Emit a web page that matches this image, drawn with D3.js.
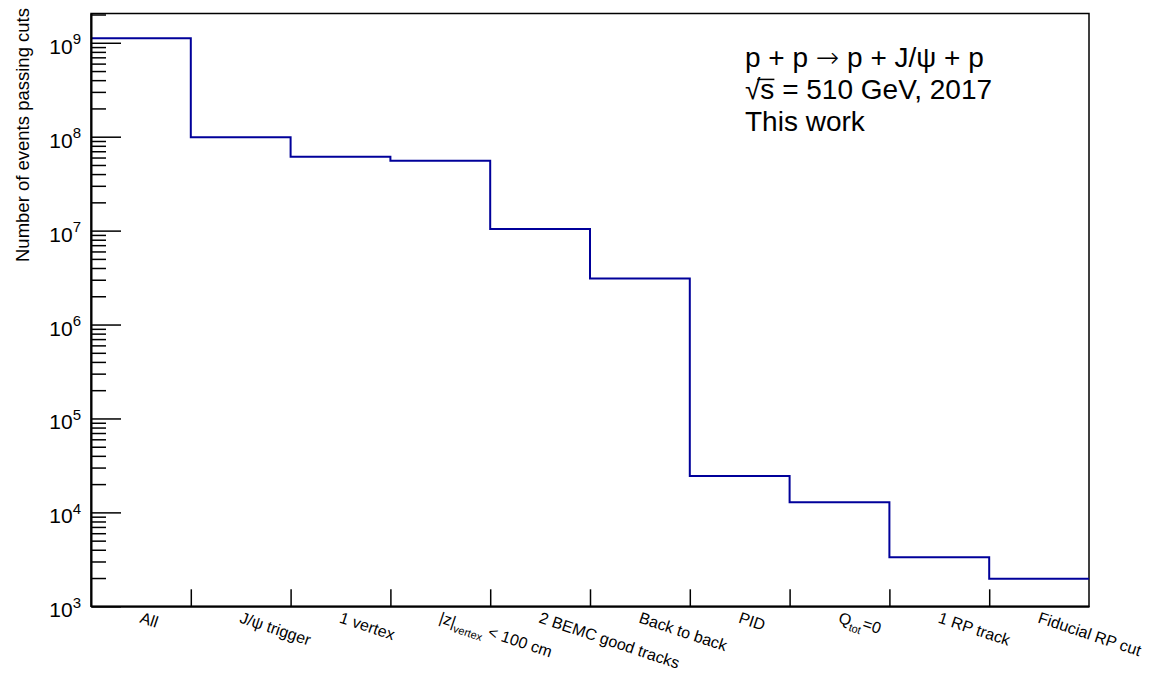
<!DOCTYPE html>
<html>
<head>
<meta charset="utf-8">
<script src="https://cdn.jsdelivr.net/npm/d3@7"></script>
<style>
  body { margin: 0; background: #fff; }
  svg text { font-family: "Liberation Sans", Arial, sans-serif; fill: #000; }
</style>
</head>
<body>
<div class="visHolder"></div>
<script>
const cuts = [
  "All",
  "J/ψ trigger",
  "1 vertex",
  "|z|_{vertex} < 100 cm",
  "2 BEMC good tracks",
  "Back to back",
  "PID",
  "Q_{tot}=0",
  "1 RP track",
  "Fiducial RP cut",
];

const events = [1.12e9, 9.86e7, 6.13e7, 5.54e7, 1.04e7, 3.1e6, 2.44e4, 1.28e4, 3.32e3, 1.96e3];

const yDomain = [1e3, 2.05e9];
const yMajorTicks = [1e3, 1e4, 1e5, 1e6, 1e7, 1e8, 1e9];

const annotation = ["p + p → p + J/ψ + p", "√s = 510 GeV, 2017", "This work"];
const yTitle = "Number of events passing cuts";

const width = 1152;
const height = 673;
const plotLeft = 91;
const plotRight = 1089;
const plotTop = 13.5;
const plotBottom = 606.3;

const svg = d3
  .select(".visHolder")
  .append("svg")
  .attr("width", width)
  .attr("height", height);

const xScale = d3.scaleLinear().domain([0, cuts.length]).range([plotLeft, plotRight]);
const yScale = d3.scaleLog().domain(yDomain).range([plotBottom, plotTop]);

// minor ticks 2..9 x 10^n
const minorTicks = [];
yMajorTicks.forEach((m) => {
  for (let k = 2; k <= 9; k++) {
    const v = m * k;
    if (v <= yDomain[1]) minorTicks.push(v);
  }
});

// frame
svg
  .append("rect")
  .attr("x", plotLeft)
  .attr("y", plotTop)
  .attr("width", plotRight - plotLeft)
  .attr("height", plotBottom - plotTop)
  .attr("fill", "none")
  .attr("stroke", "#000")
  .attr("stroke-width", 1.5);

// histogram line
const line = d3
  .line()
  .x((d) => xScale(d[0]))
  .y((d) => yScale(d[1]))
  .curve(d3.curveStepAfter);

const pts = events.map((v, i) => [i, v]);
pts.push([events.length, events[events.length - 1]]);

svg
  .append("path")
  .datum(pts)
  .attr("d", line)
  .attr("fill", "none")
  .attr("stroke", "#00009a")
  .attr("stroke-width", 2);

// y axis: minor ticks
svg
  .append("g")
  .attr("transform", `translate(${plotLeft},0)`)
  .call(d3.axisLeft(yScale).tickValues(minorTicks).tickSizeInner(-15).tickSizeOuter(0).tickFormat(""))
  .call((g) => g.select(".domain").remove())
  .call((g) => g.selectAll("line").attr("stroke-width", 1.5));

// y axis: major ticks
const yAxis = svg
  .append("g")
  .attr("id", "y-axis")
  .attr("transform", `translate(${plotLeft},0)`)
  .call(
    d3.axisLeft(yScale).tickValues(yMajorTicks).tickSizeInner(-30).tickSizeOuter(0).tickPadding(10)
  );
yAxis.select(".domain").attr("stroke-width", 2);
yAxis.selectAll("line").attr("stroke-width", 1.5);
yAxis
  .selectAll("text")
  .attr("font-size", 21)
  .attr("dy", "0.5em")
  .text(null)
  .each(function (d) {
    const t = d3.select(this);
    t.append("tspan").text("10");
    t.append("tspan")
      .attr("dy", "-0.62em")
      .attr("font-size", 15)
      .text(Math.round(Math.log10(d)));
  });

// x axis
const xAxis = svg
  .append("g")
  .attr("id", "x-axis")
  .attr("transform", `translate(0,${plotBottom})`)
  .call(
    d3
      .axisBottom(xScale)
      .tickValues(d3.range(1, cuts.length))
      .tickSizeInner(-17)
      .tickSizeOuter(0)
      .tickFormat("")
  );
xAxis.select(".domain").attr("stroke-width", 2);
xAxis.selectAll("line").attr("stroke-width", 1.5);

// x labels, rotated, with simple _{sub} support
const xLabels = svg
  .append("g")
  .selectAll("text")
  .data(cuts)
  .enter()
  .append("text")
  .attr("font-size", 16)
  .attr("transform", (d, i) => `translate(${xScale(i + 0.5) - 2},${plotBottom + 16}) rotate(18.5)`);

xLabels.each(function (d) {
  const t = d3.select(this);
  const parts = d.split(/(_\{[^}]*\})/);
  let sub = false;
  parts.forEach((p) => {
    if (!p) return;
    if (p.startsWith("_{")) {
      t.append("tspan").attr("font-size", 11).attr("dy", "0.4em").text(p.slice(2, -1));
      sub = true;
    } else {
      const ts = t.append("tspan").text(p);
      if (sub) {
        ts.attr("dy", "-0.4em");
        sub = false;
      }
    }
  });
});

// y title
svg
  .append("text")
  .attr("font-size", 18.5)
  .attr("text-anchor", "end")
  .attr("transform", `translate(29,8) rotate(-90)`)
  .text(yTitle);

// annotation
const annSize = 28;
const ann = svg.append("g").attr("font-size", annSize);
annotation.forEach((s, i) => {
  const y0 = 67 + i * 32;
  const t = ann.append("text").attr("x", 745).attr("y", y0);
  s.split(/(→)/).forEach((p) => {
    if (!p) return;
    const ts = t.append("tspan").text(p);
    if (p === "→") ts.style("font-family", "'DejaVu Sans'").attr("font-weight", 200);
  });
  if (s.startsWith("√s")) {
    // bar over the s of the square root
    const node = t.node();
    const xa = node.getStartPositionOfChar(0).x + node.getSubStringLength(0, 1) * 0.8;
    const xb = node.getEndPositionOfChar(1).x;
    ann
      .append("line")
      .attr("x1", xa)
      .attr("x2", xb)
      .attr("y1", y0 - annSize * 0.7)
      .attr("y2", y0 - annSize * 0.7)
      .attr("stroke", "#000")
      .attr("stroke-width", 1.5);
  }
});
</script>
</body>
</html>
